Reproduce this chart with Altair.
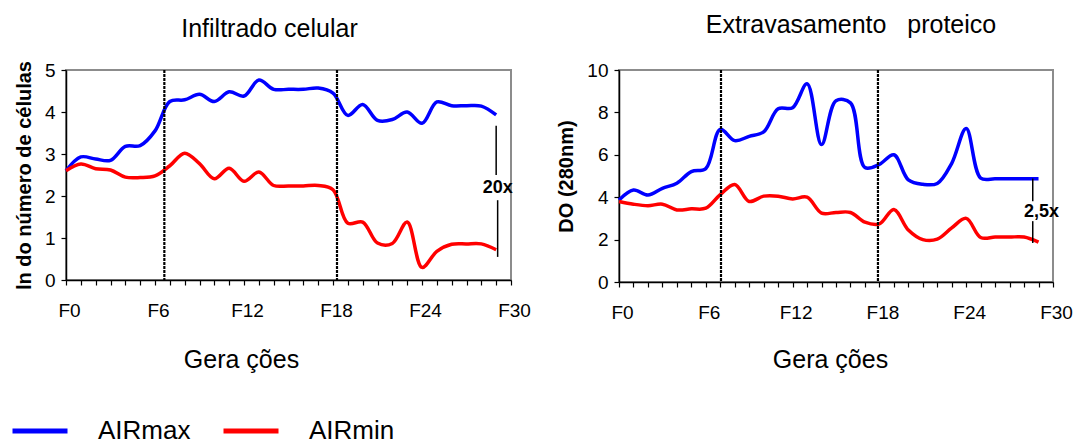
import altair as alt
import pandas as pd

FONT = "Liberation Sans"

# ---- data ----
gens = list(range(30))
series = ["AIRmax", "AIRmin"]
colors = ["#0000ff", "#ff0000"]
x_ticks = list(range(31))

cel_max = [2.6, 2.93, 2.88, 2.85, 3.18, 3.2, 3.55, 4.25, 4.29, 4.42, 4.25, 4.48, 4.38, 4.76, 4.54,
           4.54, 4.54, 4.57, 4.45, 3.92, 4.18, 3.8, 3.82, 4.0, 3.73, 4.24, 4.15, 4.15, 4.14, 3.93]
cel_min = [2.6, 2.76, 2.65, 2.62, 2.45, 2.44, 2.48, 2.72, 3.02, 2.77, 2.41, 2.66, 2.35, 2.57, 2.25,
           2.24, 2.24, 2.25, 2.15, 1.35, 1.38, 0.88, 0.87, 1.38, 0.3, 0.68, 0.85, 0.86, 0.86, 0.72]
prot_max = [3.87, 4.34, 4.1, 4.42, 4.66, 5.21, 5.35, 7.2, 6.67, 6.87, 7.08, 8.17, 8.22, 9.35, 6.48,
            8.55, 8.45, 5.4, 5.55, 6.0, 4.82, 4.61, 4.65, 5.6, 7.24, 4.9, 4.87, 4.87, 4.87, 4.87]
prot_min = [3.8, 3.67, 3.6, 3.67, 3.4, 3.45, 3.48, 4.12, 4.6, 3.8, 4.05, 4.05, 3.92, 4.0, 3.25,
            3.28, 3.28, 2.82, 2.74, 3.42, 2.45, 2.0, 2.02, 2.55, 3.0, 2.1, 2.12, 2.12, 2.12, 1.88]

cel_dividers = [6.63, 18.27]
prot_dividers = [7.05, 17.9]

cel_ann_x = [29.0, 29.1]
cel_ann_top = [3.67, 1.9]
cel_ann_bot = [2.5, 0.55]
cel_label = ["20x"]
cel_label_x = [29.1]
cel_label_y = [2.2]

prot_ann_x = [28.6, 28.6]
prot_ann_top = [4.88, 2.87]
prot_ann_bot = [3.81, 1.84]
prot_label = ["2,5x"]
prot_label_x = [29.2]
prot_label_y = [3.3]


def panel(vmax, vmin, dividers, ann_x, ann_top, ann_bot, lab, lab_x, lab_y,
          ymax, ystep, ytitle, title, title_dx, title_offset, xtitle_x, xtitle_y, w, h):
    df = pd.DataFrame({"g": gens * 2, "v": vmax + vmin,
                       "s": [series[0]] * len(gens) + [series[1]] * len(gens)})
    xs = alt.Scale(domain=[0, 30], nice=False, zero=False)
    ys = alt.Scale(domain=[0, ymax], nice=False)
    xaxis = alt.Axis(
        values=x_ticks,
        labelExpr="datum.value % 6 == 0 ? 'F' + datum.value : ''",
        labelOverlap=False, labelFlush=False, labelOffset=3,
        tickSize=5, labelPadding=16, grid=False,
        title="Gera ções", titleX=xtitle_x, titleY=xtitle_y,
        titleBaseline="alphabetic", titleAlign="center", titleAnchor="start",
    )
    yaxis = alt.Axis(
        values=list(range(0, ymax + 1, ystep)), grid=False, tickSize=5,
        labelPadding=6, title=ytitle, titlePadding=10, titleFontWeight="bold",
        titleFontSize=20,
    )
    X = alt.X("g:Q", scale=xs, axis=xaxis)
    Y = alt.Y("v:Q", scale=ys, axis=yaxis)

    lines = alt.Chart(df).mark_line(interpolate="catmull-rom", strokeWidth=3.5).encode(
        x=X, y=Y,
        color=alt.Color("s:N", scale=alt.Scale(domain=series, range=colors),
                        legend=alt.Legend(
                            orient="none", direction="horizontal", legendX=-56, legendY=331,
                            title=None, symbolType="stroke", symbolSize=3025,
                            symbolStrokeWidth=5, labelFontSize=26, labelFont=FONT,
                            labelColor="black", labelOffset=28, columnPadding=22,
                        )),
    )

    ddf = pd.DataFrame({"g": dividers})
    divs = alt.Chart(ddf).mark_rule(color="black", strokeWidth=2.2, strokeDash=[3, 1]).encode(x=X)

    adf = pd.DataFrame({"g": ann_x, "v": ann_top, "v2": ann_bot})
    arules = alt.Chart(adf).mark_rule(color="black", strokeWidth=1.5).encode(
        x=X, y=Y, y2="v2:Q")

    tdf = pd.DataFrame({"g": lab_x, "v": lab_y, "t": lab})
    atext = alt.Chart(tdf).mark_text(font=FONT, fontSize=18, fontWeight="bold",
                                     color="black").encode(x=X, y=Y, text="t:N")

    return alt.layer(lines, divs, arules, atext).properties(
        width=w, height=h,
        title=alt.TitleParams(text=title, fontSize=25, font=FONT, fontWeight="normal",
                              anchor="middle", dx=title_dx, offset=title_offset,
                              baseline="alphabetic", color="black"),
    )


left = panel(cel_max, cel_min, cel_dividers, cel_ann_x, cel_ann_top, cel_ann_bot,
             cel_label, cel_label_x, cel_label_y, 5, 1, "ln do número de células",
             "Infiltrado celular", -19, -1, 175, 87, 445, 210)
right = panel(prot_max, prot_min, prot_dividers, prot_ann_x, prot_ann_top, prot_ann_bot,
              prot_label, prot_label_x, prot_label_y, 10, 2, "DO (280nm)",
              "Extravasamento\u00a0\u00a0\u00a0proteico", 15, 3, 211, 85, 434, 212)

chart = alt.hconcat(left, right, spacing=108, bounds="flush").properties(
    padding={"left": 10, "top": 12, "right": 5, "bottom": 0},
    background="white",
).configure_view(stroke="#8c8c8c", strokeWidth=2).configure_axis(
    domainColor="black", domainWidth=1.5, tickColor="black", tickWidth=1.2,
    labelColor="black", titleColor="black", labelFont=FONT, titleFont=FONT,
    labelFontSize=19, titleFontSize=25, titleFontWeight="normal",
)

chart.save("out.html", embed_options={"renderer": "svg", "actions": False})
